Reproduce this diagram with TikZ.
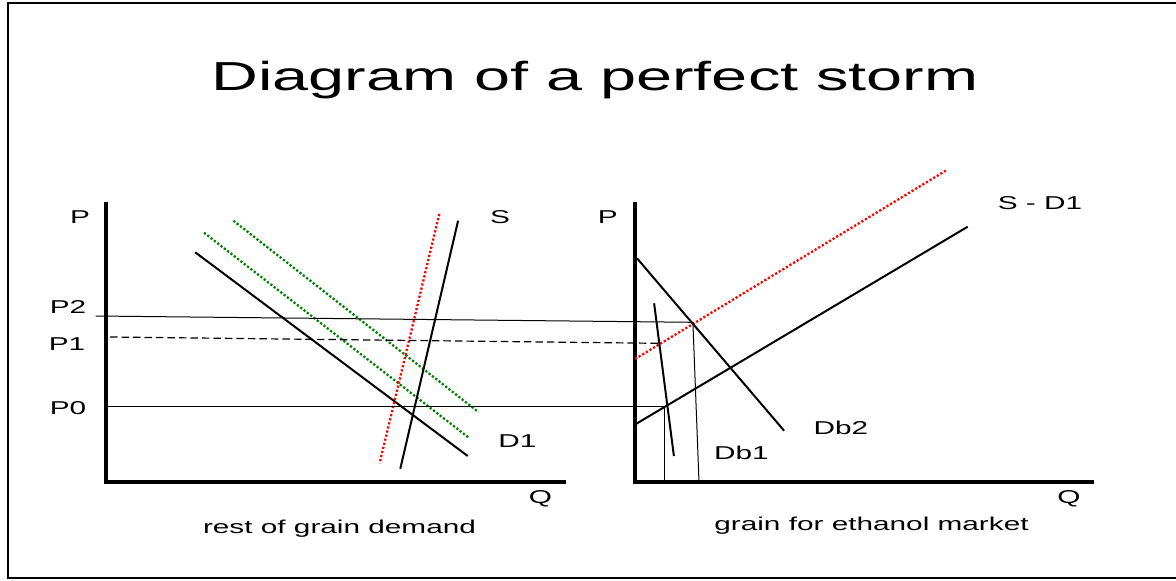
\documentclass[tikz,border=0pt]{standalone}
\usepackage{fontspec}
\setmainfont{Liberation Sans}
\usepackage{graphicx}
\newcommand\wide[1]{\scalebox{1.6}[1]{#1}}
\definecolor{dgreen}{RGB}{0,128,0}
\definecolor{pred}{RGB}{255,0,0}
\begin{document}
\begin{tikzpicture}[x=1pt,y=-1pt,
  lbl/.style={font=\fontsize{18.6}{20}\selectfont, inner sep=0pt},
  axisline/.style={line width=3.3pt, line join=miter},
  curveline/.style={line width=2pt},
  thinline/.style={line width=1pt},
  dotred/.style={line width=2.3pt, pred, dash pattern=on 2.2pt off 2pt},
  dotgreen/.style={line width=2.3pt, dgreen, dash pattern=on 2.2pt off 2pt}]
\useasboundingbox (0,0) rectangle (1176,581);
\draw[line width=2pt] (8,2.5) rectangle (1190,578);
\node[font=\fontsize{40.5}{48}\selectfont, inner sep=0pt, anchor=base] (title) at (595,90) {\wide{Diagram of a perfect storm}};

% left chart
\draw[axisline] (106,202) -- (106,482) -- (566,482);
\draw[curveline] (195.2,252.3) -- (467.7,456);
\draw[dotgreen] (204,232.7) -- (468.8,437.7);
\draw[dotgreen] (233.4,220.7) -- (478.4,412);
\draw[dotred] (439.3,214) -- (379.6,463.3);
\draw[curveline] (458.1,220.7) -- (400.3,468.7);

% right chart
\draw[axisline] (635,202) -- (635,482) -- (1094,482);
\draw[dotred] (635.1,359) -- (946.8,170);
\draw[curveline] (635.9,424) -- (967.7,226.7);
\draw[curveline] (637,258.3) -- (784.1,430.7);
\draw[curveline] (654.1,303.3) -- (673.9,456);

% price lines
\coordinate (E2) at (692.9,322.3);
\coordinate (E1) at (657.9,343.3);
\coordinate (E0) at (667,406);
\draw[thinline] (95.7,316) -- (E2) -- (699,482);
\draw[line width=1.2pt, dash pattern=on 7.5pt off 4pt] (110,337) -- (E1);
\draw[thinline] (107,406) -- (E0);
\draw[thinline] (664,406) -- (664,482);

% labels
\node[lbl] (pL) at (80,217) {\wide{P}};
\node[lbl] (sL) at (500,217) {\wide{S}};
\node[lbl] (p2) at (68,306.7) {\wide{P2}};
\node[lbl] (p1) at (67,344) {\wide{P1}};
\node[lbl] (p0) at (68,408) {\wide{P0}};
\node[lbl] (d1) at (517.5,440.7) {\wide{D1}};
\node[lbl] (qL) at (540.5,498.5) {\wide{Q}};
\node[lbl, anchor=base] (capL) at (339.5,533) {\wide{rest of grain demand}};
\node[lbl] (pR) at (607.7,217.3) {\wide{P}};
\node[lbl] (sd) at (1040,203.3) {\wide{S - D1}};
\node[lbl] (db2) at (841,428.3) {\wide{Db2}};
\node[lbl] (db1) at (741.5,453.3) {\wide{Db1}};
\node[lbl] (qR) at (1069,498.5) {\wide{Q}};
\node[lbl, anchor=base] (capR) at (871.5,530) {\wide{grain for ethanol market}};
\end{tikzpicture}
\end{document}
